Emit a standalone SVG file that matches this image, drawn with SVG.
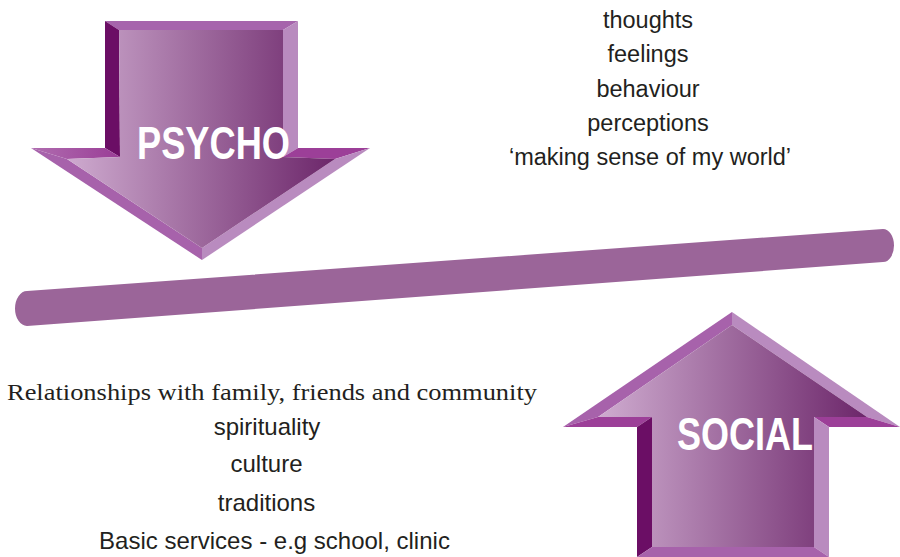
<svg xmlns="http://www.w3.org/2000/svg" width="900" height="557" viewBox="0 0 900 557">
<style>
.lbl{font-family:"Liberation Sans",Arial,sans-serif;font-size:23.5px;fill:#231f20;text-anchor:middle}
.lbl2{font-family:"Liberation Sans",Arial,sans-serif;font-size:24px;fill:#231f20;text-anchor:middle}
.ser{font-family:"Liberation Serif","Times New Roman",serif;font-size:24px;fill:#231f20}
.big{font-family:"Liberation Sans",Arial,sans-serif;font-weight:bold;font-size:46px;fill:#ffffff}
.bTop{fill:#a664ac}
.bDark{fill:#6b0e65}
.bLight{fill:#b98bbf}
.bMid{fill:#9c3f98}
.bLow{fill:#a762ab}
</style>
<defs>
<linearGradient id="gPsy" gradientUnits="userSpaceOnUse" x1="65" y1="0" x2="335" y2="0">
<stop offset="0" stop-color="#cfacd0"/>
<stop offset="1" stop-color="#6c266a"/>
</linearGradient>
<linearGradient id="gSoc" gradientUnits="userSpaceOnUse" x1="598" y1="0" x2="867" y2="0">
<stop offset="0" stop-color="#cfacd0"/>
<stop offset="1" stop-color="#6c266a"/>
</linearGradient>
<linearGradient id="gHeadL" gradientUnits="userSpaceOnUse" x1="31" y1="0" x2="120" y2="0">
<stop offset="0" stop-color="#b06db0"/>
<stop offset="1" stop-color="#9a3d96"/>
</linearGradient>
</defs>

<g id="balance-bar">
<path d="M27,291 L883,229 A11,16.5 0 0 1 883,262 L27,326 A12,17.5 0 0 1 27,291 Z" fill="#9b6599"/>
</g>

<g id="psycho">
<polygon points="105,21 298,21 283,30 119,30" class="bTop"/>
<polygon points="105,21 119,30 120,157 105,148" class="bDark"/>
<polygon points="298,21 298,148 283,157 283,30" class="bLight"/>
<polygon points="31,148 105,148 120,157 67,159" fill="url(#gHeadL)"/>
<polygon points="298,148 370,148 335,159 283,157" class="bMid"/>
<polygon points="31,148 67,159 202,248 202,260" class="bLow"/>
<polygon points="370,148 202,260 202,248 335,159" class="bLight"/>
<polygon points="119,30 283,30 283,157 335,159 202,248 67,159 120,157" fill="url(#gPsy)"/>
<text x="137" y="159" class="big" textLength="153" lengthAdjust="spacingAndGlyphs">PSYCHO</text>
</g>

<g id="social">
<polygon points="563,427 732,312 732,325 598,417" class="bLow"/>
<polygon points="732,312 900,427 867,417 732,325" class="bLight"/>
<polygon points="563,427 598,417 652,417 637,427" class="bMid"/>
<polygon points="829,427 814,417 867,417 900,427" class="bMid"/>
<polygon points="637,427 652,417 652,547 637,557" class="bDark"/>
<polygon points="829,427 814,417 814,547 829,557" class="bLight"/>
<polygon points="637,557 652,547 814,547 829,557" class="bLow"/>
<polygon points="732,325 867,417 814,417 814,547 652,547 652,417 598,417" fill="url(#gSoc)"/>
<text x="677" y="450" class="big" textLength="136" lengthAdjust="spacingAndGlyphs">SOCIAL</text>
</g>

<g id="psycho-labels">
<text x="648" y="27.5" class="lbl">thoughts</text>
<text x="648" y="62" class="lbl">feelings</text>
<text x="648" y="97" class="lbl">behaviour</text>
<text x="648" y="130.5" class="lbl">perceptions</text>
<text x="650" y="165" class="lbl">‘making sense of my world’</text>
</g>

<g id="social-labels">
<text x="7" y="400" class="ser" textLength="530" lengthAdjust="spacingAndGlyphs">Relationships with family, friends and community</text>
<text x="267" y="435" class="lbl2">spirituality</text>
<text x="266.5" y="472" class="lbl2">culture</text>
<text x="266.5" y="511" class="lbl2">traditions</text>
<text x="274.5" y="549" class="lbl2">Basic services - e.g school, clinic</text>
</g>
</svg>
